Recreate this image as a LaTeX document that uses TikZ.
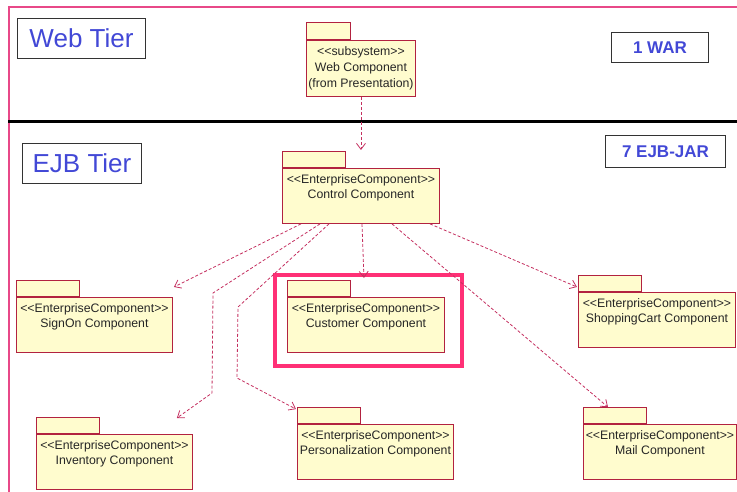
\documentclass[tikz,border=0pt]{standalone}
\usepackage{fontspec}
\setmainfont{Liberation Sans}
\usetikzlibrary{arrows.meta}
\definecolor{pkgLine}{RGB}{178,34,64}
\definecolor{pkgFill}{RGB}{255,252,206}
\definecolor{depCol}{RGB}{196,48,96}
\definecolor{tierBlue}{RGB}{66,72,214}
\definecolor{frameCol}{RGB}{232,72,136}
\definecolor{hiCol}{RGB}{255,48,118}
\def\stereo#1{<\kern0pt<#1>\kern0pt>}
\begin{document}
\begin{tikzpicture}[x=1pt,y=-1pt,
    >={Straight Barb[length=6pt,width=9pt]},
    pkg/.style={draw=pkgLine,fill=pkgFill,line width=0.9pt,inner sep=0pt,anchor=north west,minimum height=55},
    pkgtab/.style={pkg,anchor=south west,minimum width=63,minimum height=16},
    pkgtxt/.style={anchor=north,align=center,inner xsep=0pt,inner ysep=6.5pt,text=black!85,font=\fontsize{12.3}{15}\selectfont},
    dep/.style={->,draw=depCol,line width=0.8pt,dash pattern=on 3pt off 2pt},
    tier/.style={draw=black!80,line width=1pt,text=tierBlue,anchor=north west,inner sep=0pt,font=\fontsize{26}{26}\selectfont},
    jar/.style={tier,font=\fontsize{17}{17}\selectfont\bfseries}]
    \useasboundingbox (0,0) rectangle (737,492);
    % frame and tier split
    \draw[frameCol,line width=1.5pt] (737,7) -- (9,7) -- (9,492);
    \draw[line width=3pt] (8,122) -- (737,122);
    \node[tier,minimum width=128,minimum height=40] (webtier) at (17,18) {Web Tier};
    \node[tier,minimum width=119,minimum height=40] (ejbtier) at (22,143) {EJB Tier};
    \node[jar,minimum width=97,minimum height=30] (war) at (611,32) {1 WAR};
    \node[jar,minimum width=120,minimum height=32] (ejbjar) at (605,135) {7 EJB-JAR};
    % web component
    \node[pkg,minimum width=109,minimum height=56] (web) at (306,40) {};
    \node[pkgtab,minimum width=44,minimum height=17] (web-tab) at (web.north west) {};
    \node[pkgtxt,font=\fontsize{12.3}{16}\selectfont] (web-txt) at (web.north) {\stereo{subsystem}\\Web Component\\(from Presentation)};
    % enterprise components
    \node[draw=hiCol,line width=3.5pt,minimum width=187,minimum height=91,anchor=north west] (hilite) at (273,273) {};
    \foreach \nm/\x/\y/\w/\txt in {control/282/168/157/Control Component,
        signon/16/297/156/SignOn Component,
        customer/287/297/157/Customer Component,
        shopping/578/292/157/ShoppingCart Component,
        inventory/36/434/156/Inventory Component,
        personal/297/424/156/Personalization Component,
        mail/583/424/153/Mail Component}
    {
    \node[pkg,minimum width=\w] (\nm) at (\x,\y) {};
    \node[pkgtab] (\nm-tab) at (\nm.north west) {};
    \node[pkgtxt] (\nm-txt) at (\nm.north) {\stereo{EnterpriseComponent}\\\txt};
    }
    % dependencies
    \draw[dep] (web) -- ([yshift=18pt]control.north);
    \draw[dep] ([xshift=19pt]control.south west) -- ([xshift=1pt,yshift=10pt]signon.north east);
    \draw[dep] ([xshift=38pt]control.south west) -- (213,293) -- (212,393) -- ([xshift=-16pt,yshift=16pt]inventory.north east);
    \draw[dep] ([xshift=47pt]control.south west) -- (238,307) -- (237,378) -- ([xshift=-1pt,yshift=-2pt]personal-tab.north west);
    \draw[dep] ([xshift=80pt]control.south west) -- ([xshift=-2pt,yshift=19pt]customer.north);
    \draw[dep] ([xshift=110pt]control.south west) -- ([xshift=25pt]mail-tab.north west);
    \draw[dep] ([xshift=148pt]control.south west) -- ([xshift=-1pt,yshift=5pt]shopping.north west);
\end{tikzpicture}
\end{document}
